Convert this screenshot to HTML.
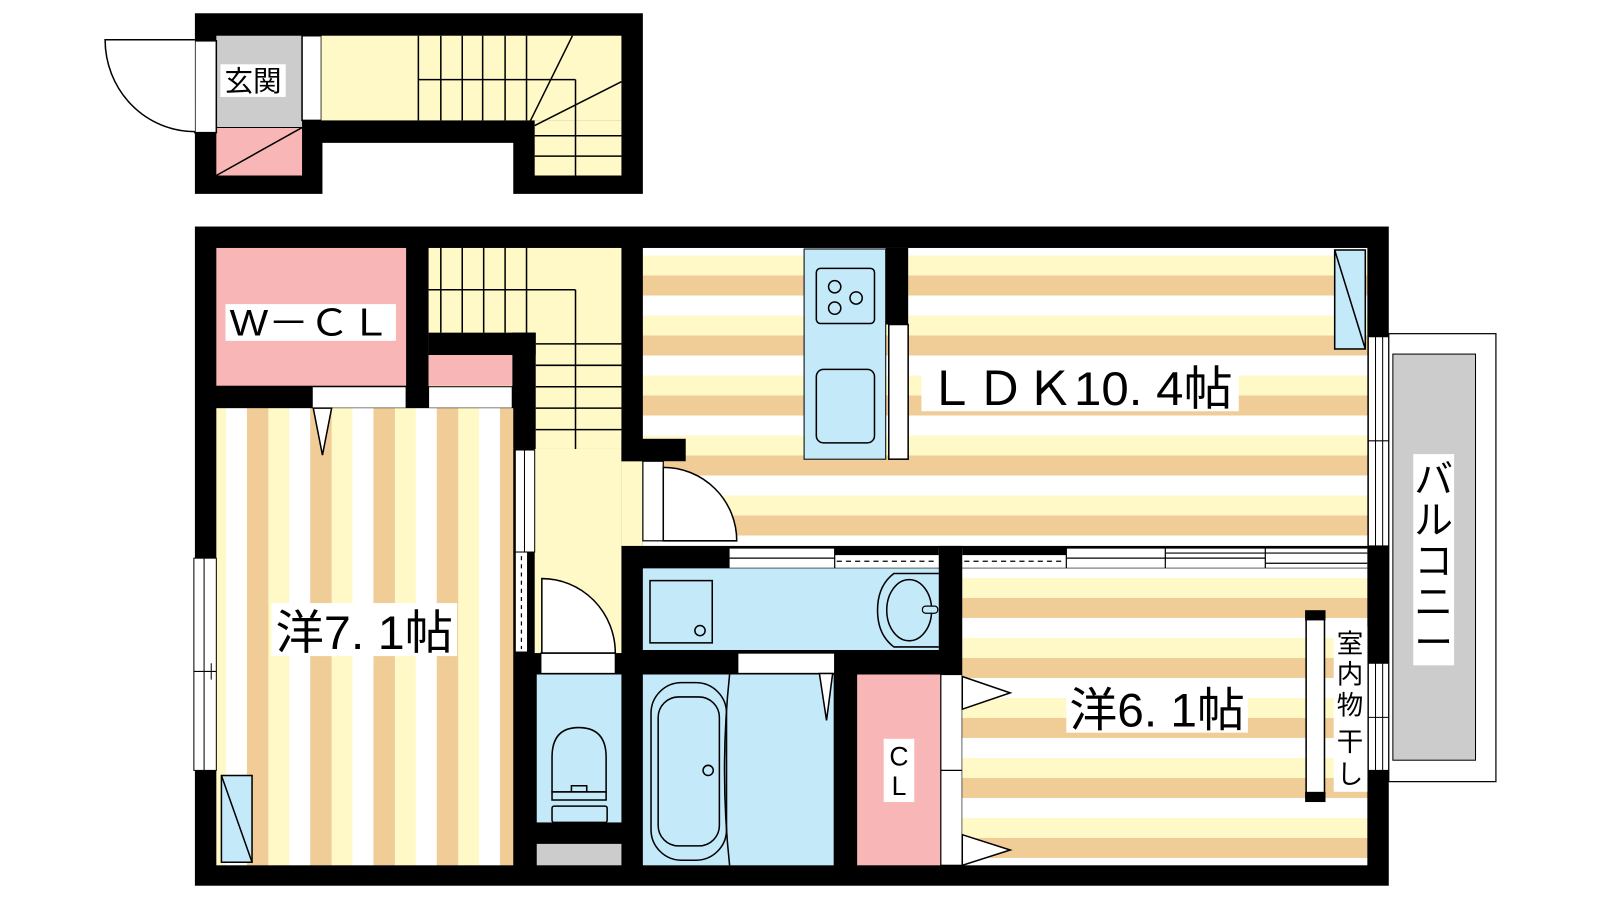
<!DOCTYPE html>
<html><head><meta charset="utf-8"><style>
html,body{margin:0;padding:0;background:#fff;}
svg{display:block;}
text{font-family:"Liberation Sans","Noto Sans CJK JP",sans-serif;fill:#000;}
</style></head><body>
<svg width="1600" height="900" viewBox="0 0 1568 882" preserveAspectRatio="none" xmlns="http://www.w3.org/2000/svg">
<defs>
<pattern id="hs" patternUnits="userSpaceOnUse" x="0" y="270" width="40" height="58.8">
<rect width="40" height="58.8" fill="#fff9c8"/><rect width="40" height="19.6" fill="#f0cc96"/><rect y="19.6" width="40" height="19.6" fill="#fff"/>
</pattern>
<pattern id="hs2" patternUnits="userSpaceOnUse" x="0" y="586" width="40" height="58.8">
<rect width="40" height="58.8" fill="#fff9c8"/><rect width="40" height="19.6" fill="#f0cc96"/><rect y="19.6" width="40" height="19.6" fill="#fff"/>
</pattern>
<pattern id="vs" patternUnits="userSpaceOnUse" x="242" y="0" width="62" height="40">
<rect width="62" height="40" fill="#fff"/><rect width="21" height="40" fill="#f0cc96"/><rect x="21" width="20.5" height="40" fill="#fff9c8"/>
</pattern>
</defs>

<!-- ===== TOP UNIT ===== -->
<rect x="191" y="13" width="439" height="177" fill="#000"/>
<rect x="212" y="35" width="84" height="90" fill="#cccccc"/>
<rect x="212" y="125" width="84" height="47" fill="#f8b6b6"/>
<line x1="212" y1="172" x2="296" y2="125" stroke="#000" stroke-width="1.5"/>
<line x1="212" y1="125" x2="296" y2="125" stroke="#000" stroke-width="1"/>
<rect x="296" y="35" width="19" height="83" fill="#fff" stroke="#000" stroke-width="1.5"/>
<rect x="315" y="35" width="294" height="83" fill="#fff9c8"/>
<rect x="524" y="118" width="85" height="54" fill="#fff9c8"/>
<rect x="316" y="140" width="187" height="51" fill="#fff"/>
<g stroke="#000" stroke-width="1.5" fill="none">
<line x1="410" y1="35" x2="410" y2="118"/><line x1="432" y1="35" x2="432" y2="118"/>
<line x1="453" y1="35" x2="453" y2="118"/><line x1="473" y1="35" x2="473" y2="118"/>
<line x1="495" y1="35" x2="495" y2="118"/><line x1="516" y1="35" x2="516" y2="118"/>
<line x1="410" y1="78" x2="564" y2="78"/><line x1="564" y1="78" x2="564" y2="172"/>
<line x1="519" y1="120" x2="561" y2="35"/><line x1="524" y1="123" x2="609" y2="80"/>
<line x1="524" y1="133" x2="609" y2="133"/><line x1="524" y1="153" x2="609" y2="153"/>
</g>
<rect x="191" y="40" width="21" height="90" fill="#fff" stroke="#000" stroke-width="1.5"/>
<path d="M191 39 L103 39 A88 90 0 0 0 191 129" fill="#fff" stroke="#000" stroke-width="1.5"/>
<rect x="216" y="63" width="64" height="32" fill="#fff"/>
<text x="248" y="89" font-size="28" text-anchor="middle">玄関</text>

<!-- ===== MAIN UNIT ===== -->
<rect x="191" y="222" width="1170" height="646" fill="#000"/>
<!-- LDK -->
<rect x="630" y="243" width="710" height="292" fill="url(#hs)"/>
<!-- stairs / hallway -->
<rect x="420" y="243" width="189" height="197" fill="#fff9c8"/>
<rect x="524" y="440" width="85" height="200" fill="#fff9c8"/>
<rect x="609" y="452" width="21" height="83" fill="#fff9c8"/>
<rect x="420" y="326" width="105" height="22" fill="#000"/>
<rect x="502" y="326" width="23" height="114" fill="#000"/>
<rect x="420" y="348" width="82" height="30" fill="#f8b6b6"/>
<g stroke="#000" stroke-width="1.5" fill="none">
<line x1="432" y1="243" x2="432" y2="326"/><line x1="453" y1="243" x2="453" y2="326"/>
<line x1="474" y1="243" x2="474" y2="326"/><line x1="495" y1="243" x2="495" y2="326"/>
<line x1="516" y1="243" x2="516" y2="326"/>
<line x1="420" y1="284" x2="564" y2="284"/><line x1="564" y1="284" x2="564" y2="440"/>
<line x1="525" y1="337" x2="609" y2="337"/><line x1="525" y1="358" x2="609" y2="358"/>
<line x1="525" y1="379" x2="609" y2="379"/><line x1="525" y1="400" x2="609" y2="400"/>
<line x1="525" y1="421" x2="609" y2="421"/>
</g>
<!-- WCL -->
<rect x="212" y="243" width="186" height="135" fill="#f8b6b6"/>
<rect x="221" y="298" width="167" height="36" fill="#fff"/>
<text x="304" y="329" font-size="36" text-anchor="middle" textLength="158" lengthAdjust="spacingAndGlyphs">W－ＣＬ</text>
<!-- closet doors strips -->
<rect x="306" y="379" width="92" height="21" fill="#fff" stroke="#000" stroke-width="1"/>
<rect x="420" y="379" width="82" height="21" fill="#fff" stroke="#000" stroke-width="1"/>
<!-- Bedroom 7.1 -->
<rect x="212" y="400" width="291" height="448" fill="url(#vs)"/>
<polygon points="307,400 325,400 316,446" fill="#fff" stroke="#000" stroke-width="1.5"/>
<rect x="190" y="547" width="22" height="208" fill="#fff" stroke="#000" stroke-width="1"/>
<line x1="200" y1="547" x2="200" y2="755" stroke="#000" stroke-width="1"/>
<line x1="190" y1="658" x2="212" y2="658" stroke="#000" stroke-width="1"/>
<line x1="207" y1="650" x2="207" y2="666" stroke="#000" stroke-width="1"/>
<rect x="217" y="760" width="30" height="85" fill="#c4e9f9" stroke="#000" stroke-width="1.5"/>
<line x1="217" y1="760" x2="247" y2="845" stroke="#000" stroke-width="1.5"/>
<rect x="266" y="591" width="182" height="52" fill="#fff"/>
<text x="357" y="636" font-size="46" text-anchor="middle" textLength="174" lengthAdjust="spacingAndGlyphs">洋7. 1帖</text>
<!-- sliding door bedroom7 -> hallway -->
<rect x="505" y="441" width="19" height="100" fill="#fff" stroke="#000" stroke-width="1"/>
<line x1="514" y1="441" x2="514" y2="541" stroke="#000" stroke-width="1"/>
<rect x="505" y="541" width="12" height="98" fill="#fff" stroke="#000" stroke-width="1"/>
<line x1="511" y1="545" x2="511" y2="636" stroke="#000" stroke-width="1.2" stroke-dasharray="4,4"/>
<!-- LDK door -->
<rect x="609" y="430" width="63" height="22" fill="#000"/>
<rect x="630" y="452" width="20" height="78" fill="#fff" stroke="#000" stroke-width="1.2"/>
<path d="M650 458 A72 72 0 0 1 722 530 L650 530 Z" fill="#fff" stroke="#000" stroke-width="1.5"/>
<!-- Kitchen -->
<rect x="788" y="244" width="80" height="206" fill="#c4e9f9" stroke="#000" stroke-width="1"/>
<rect x="868" y="243" width="22" height="75" fill="#000"/>
<rect x="871" y="318" width="19" height="132" fill="#fff" stroke="#000" stroke-width="1.5"/>
<rect x="800" y="263" width="57" height="54" rx="4" fill="none" stroke="#000" stroke-width="1.5"/>
<g fill="none" stroke="#000" stroke-width="1.5">
<circle cx="818" cy="281" r="6"/><circle cx="839" cy="292" r="6"/><circle cx="818" cy="302" r="6"/>
</g>
<rect x="800" y="362" width="57" height="72" rx="7" fill="none" stroke="#000" stroke-width="1.5"/>
<rect x="903" y="353" width="311" height="50" fill="#fff"/>
<text x="908" y="397" font-size="46" textLength="300" lengthAdjust="spacingAndGlyphs">ＬＤＫ10. 4帖</text>
<!-- LDK right closet -->
<rect x="1308" y="245" width="30" height="97" fill="#c4e9f9" stroke="#000" stroke-width="1.5"/>
<line x1="1308" y1="245" x2="1338" y2="342" stroke="#000" stroke-width="1.5"/>
<!-- partition LDK/bed6/wash -->
<rect x="715" y="537" width="625" height="20" fill="#fff"/>
<g stroke="#000" stroke-width="1.2" fill="none">
<line x1="715" y1="537" x2="1340" y2="537"/><line x1="715" y1="557" x2="1340" y2="557"/>
<line x1="715" y1="547" x2="818" y2="547"/>
<line x1="1045" y1="547" x2="1240" y2="547"/>
<line x1="1142" y1="542" x2="1340" y2="542"/><line x1="1240" y1="552" x2="1340" y2="552"/>
<line x1="818" y1="537" x2="818" y2="557"/><line x1="1045" y1="537" x2="1045" y2="557"/>
<line x1="1142" y1="537" x2="1142" y2="557"/><line x1="1240" y1="537" x2="1240" y2="557"/>
</g>
<rect x="818" y="537" width="102" height="7" fill="#000"/>
<rect x="943" y="537" width="102" height="7" fill="#000"/>
<line x1="820" y1="550" x2="918" y2="550" stroke="#000" stroke-width="1.2" stroke-dasharray="5,4"/>
<line x1="945" y1="550" x2="1043" y2="550" stroke="#000" stroke-width="1.2" stroke-dasharray="5,4"/>
<rect x="920" y="535" width="23" height="126" fill="#000"/>
<!-- washroom -->
<rect x="630" y="557" width="290" height="80" fill="#c4e9f9"/>
<rect x="637" y="569" width="61" height="61" fill="none" stroke="#000" stroke-width="1.5"/>
<circle cx="686" cy="618" r="5" fill="none" stroke="#000" stroke-width="1.5"/>
<path d="M920 562 L876 562 Q860 574 860 598 Q860 622 876 634 L920 634" fill="none" stroke="#000" stroke-width="1.5"/>
<ellipse cx="891" cy="598" rx="22" ry="30" fill="none" stroke="#000" stroke-width="1.5"/>
<rect x="904" y="594" width="15" height="7" rx="3" fill="#c4e9f9" stroke="#000" stroke-width="1.2"/>
<!-- hallway/toilet door -->
<rect x="530" y="640" width="73" height="20" fill="#fff" stroke="#000" stroke-width="1.2"/>
<path d="M531 567 A72 73 0 0 1 603 640 L531 640 Z" fill="#fff" stroke="#000" stroke-width="1.5"/>
<!-- toilet -->
<rect x="526" y="661" width="83" height="145" fill="#c4e9f9"/>
<rect x="526" y="827" width="83" height="21" fill="#cccccc"/>
<path d="M541 776 L541 742 Q541 713 567 713 Q594 713 594 742 L594 776 Z" fill="none" stroke="#000" stroke-width="1.5"/>
<path d="M541 776 L594 776 L594 784 L541 784 Z M560 776 L560 770 L575 770 L575 776" fill="none" stroke="#000" stroke-width="1.5"/>
<rect x="541" y="790" width="54" height="16" rx="2" fill="none" stroke="#000" stroke-width="1.5"/>
<!-- wash/bath -->
<rect x="723" y="640" width="95" height="20" fill="#fff" stroke="#000" stroke-width="1.2"/>
<rect x="630" y="661" width="187" height="187" fill="#c4e9f9"/>
<rect x="638" y="669" width="74" height="174" rx="30" fill="none" stroke="#000" stroke-width="1.5"/>
<rect x="645" y="683" width="60" height="146" rx="20" fill="none" stroke="#000" stroke-width="1.5"/>
<path d="M715 661 Q705 755 715 848" fill="none" stroke="#000" stroke-width="1.5"/>
<circle cx="694" cy="755" r="5" fill="none" stroke="#000" stroke-width="1.5"/>
<polygon points="803,660 816,660 810,706" fill="#fff" stroke="#000" stroke-width="1.5"/>
<!-- CL -->
<rect x="840" y="661" width="82" height="187" fill="#f8b6b6"/>
<rect x="866" y="724" width="30" height="62" fill="#fff"/>
<text x="881" y="750" font-size="26" text-anchor="middle">C</text>
<text x="881" y="779" font-size="26" text-anchor="middle">L</text>
<rect x="922" y="661" width="21" height="187" fill="#fff" stroke="#000" stroke-width="1.2"/>
<line x1="922" y1="755" x2="943" y2="755" stroke="#000" stroke-width="1.2"/>
<!-- Bedroom 6.1 -->
<rect x="943" y="557" width="397" height="291" fill="url(#hs2)"/>
<polygon points="943,663 990,679 943,695" fill="#fff" stroke="#000" stroke-width="1.5"/>
<polygon points="943,818 990,833 943,848" fill="#fff" stroke="#000" stroke-width="1.5"/>
<rect x="1045" y="668" width="178" height="50" fill="#fff"/>
<text x="1134" y="712" font-size="46" text-anchor="middle" textLength="172" lengthAdjust="spacingAndGlyphs">洋6. 1帖</text>
<rect x="1280" y="603" width="18" height="180" fill="#fff" stroke="#000" stroke-width="1.5"/>
<rect x="1279" y="598" width="20" height="10" fill="#000"/>
<rect x="1279" y="776" width="20" height="10" fill="#000"/>
<rect x="1307" y="614" width="33" height="162" fill="#fff"/>
<g font-size="26" text-anchor="middle">
<text x="1323" y="640">室</text><text x="1323" y="670">内</text><text x="1323" y="700">物</text><text x="1323" y="736">干</text><text x="1323" y="768">し</text>
</g>
<!-- right wall windows -->
<rect x="1341" y="330" width="20" height="205" fill="#fff" stroke="#000" stroke-width="1"/>
<line x1="1348" y1="330" x2="1348" y2="535" stroke="#000" stroke-width="1"/>
<line x1="1355" y1="330" x2="1355" y2="535" stroke="#000" stroke-width="1"/>
<line x1="1341" y1="432" x2="1361" y2="432" stroke="#000" stroke-width="1"/>
<rect x="1341" y="650" width="20" height="105" fill="#fff" stroke="#000" stroke-width="1"/>
<line x1="1348" y1="650" x2="1348" y2="755" stroke="#000" stroke-width="1"/>
<line x1="1355" y1="650" x2="1355" y2="755" stroke="#000" stroke-width="1"/>
<line x1="1341" y1="703" x2="1361" y2="703" stroke="#000" stroke-width="1"/>
<!-- Balcony -->
<rect x="1361" y="327" width="105" height="439" fill="#fff" stroke="#000" stroke-width="1.2"/>
<rect x="1365" y="347" width="81" height="398" fill="#cccccc" stroke="#000" stroke-width="1"/>
<rect x="1385" y="445" width="40" height="207" fill="#fff"/>
<g font-size="38" text-anchor="middle">
<text x="1405" y="483">バ</text><text x="1405" y="523">ル</text><text x="1405" y="563">コ</text><text x="1405" y="603">ニ</text><text x="1405" y="643">ー</text>
</g>
</svg>
</body></html>
